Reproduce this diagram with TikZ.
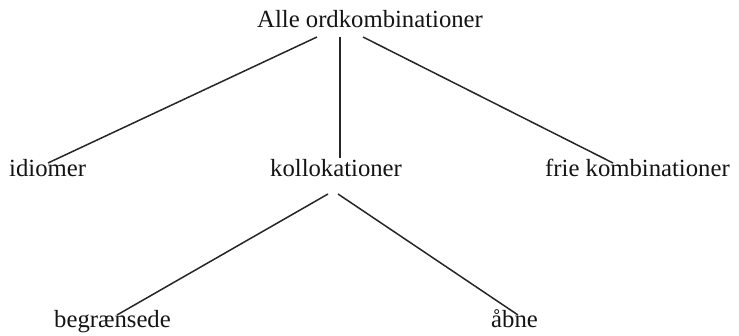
\documentclass[tikz,border=0pt]{standalone}
\usepackage{fontspec}
\setmainfont{Liberation Serif}
\usetikzlibrary{calc}
\begin{document}
\begin{tikzpicture}[x=1pt,y=-1pt,
  lbl/.style={anchor=base west,inner sep=0pt,font=\fontsize{24.7}{30}\selectfont,text=black!92},
  edge/.style={line width=1.5pt,black!85}]
\useasboundingbox (0,0) rectangle (739,336);
\node[lbl] (top) at (257,28) {Alle ordkombinationer};
\node[lbl] (idi) at (9,177) {idiomer};
\node[lbl] (kol) at (270,177) {kollokationer};
\node[lbl] (fri) at (545,177) {frie kombinationer};
\node[lbl] (beg) at (54,328) {begrænsede};
\node[lbl] (abn) at (491,328) {åbne};
\draw[edge] ($(top.base west)+(60,9)$) -- ($(idi.base west)+(39,-14)$);
\draw[edge] ($(top.base west)+(83,9)$) -- ($(kol.base west)+(70,-19)$);
\draw[edge] ($(top.base west)+(106,9)$) -- ($(fri.base west)+(68,-14)$);
\draw[edge] ($(kol.base west)+(58,17)$) -- ($(beg.base west)+(63,-13)$);
\draw[edge] ($(kol.base west)+(68,17)$) -- ($(abn.base west)+(27,-13)$);
\end{tikzpicture}
\end{document}
